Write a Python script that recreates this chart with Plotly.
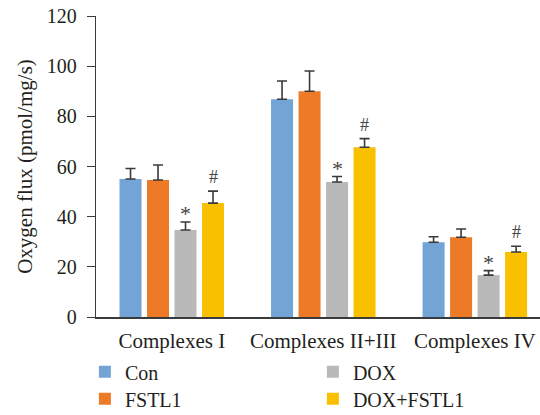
import plotly.graph_objects as go

categories = ["Complexes I", "Complexes II+III", "Complexes IV"]
series_names = ["Con", "FSTL1", "DOX", "DOX+FSTL1"]
con = [55.0, 86.8, 29.8]
fstl1 = [54.6, 90.0, 31.8]
dox = [34.7, 53.8, 16.7]
dox_fstl1 = [45.4, 67.7, 25.9]
con_err = [4.2, 7.3, 2.2]
fstl1_err = [6.0, 8.1, 3.3]
dox_err = [3.2, 2.2, 1.8]
dox_fstl1_err = [4.8, 3.4, 2.3]
dox_marks = ["*", "*", "*"]
dox_fstl1_marks = ["#", "#", "#"]
legend_rows = ["legend", "legend2", "legend", "legend2"]

values = [con, fstl1, dox, dox_fstl1]
errors = [con_err, fstl1_err, dox_err, dox_fstl1_err]
colors = ["#72A5D6", "#ED7A26", "#B9B9B9", "#F9C000"]

FONT = "Liberation Serif"
TXT = "#231F20"
bargap = 0.274
x_idx = list(range(len(categories)))

fig = go.Figure()
for name, vals, errs, col, lg in zip(series_names, values, errors, colors, legend_rows):
    fig.add_trace(go.Bar(
        x=x_idx, y=vals, name=name, marker=dict(color=col, line=dict(width=0)),
        legend=lg,
        error_y=dict(type="data", array=errs, arrayminus=[0] * len(errs), symmetric=False,
                     color="#3A3A3A", thickness=1.6, width=5),
    ))

slot = (1 - bargap) / 4
annotations = []
for j, (marks, vals, errs) in enumerate([(dox_marks, dox, dox_err), (dox_fstl1_marks, dox_fstl1, dox_fstl1_err)]):
    k = j + 2
    off = (k - 1.5) * slot
    for i, m in enumerate(marks):
        annotations.append(dict(
            x=i + off, y=vals[i] + errs[i], text=m, showarrow=False,
            xref="x", yref="y", yanchor="bottom", yshift=(-6 if m == "*" else 2),
            font=dict(family=FONT, size=(22 if m == "*" else 18), color="#444444"),
        ))

legend_common = dict(orientation="h", xanchor="left", yanchor="top",
                     entrywidth=183, entrywidthmode="pixels", traceorder="normal",
                     font=dict(family=FONT, size=20, color=TXT),
                     bgcolor="rgba(0,0,0,0)")

fig.update_layout(
    width=540, height=415,
    margin=dict(l=96, r=0, t=16, b=98, autoexpand=False),
    paper_bgcolor="white", plot_bgcolor="white",
    barmode="group", bargap=bargap, bargroupgap=0.2,
    font=dict(family=FONT, size=21, color=TXT),
    showlegend=True,
    legend=dict(x=-0.025, y=-0.117, **legend_common),
    legend2=dict(x=-0.025, y=-0.2067, **legend_common),
    annotations=annotations,
    xaxis=dict(tickmode="array", tickvals=x_idx, ticktext=categories,
               range=[-0.5, 2.43], showgrid=False, zeroline=False,
               showline=True, linecolor="#3A3A3A", linewidth=1.6, ticks="",
               ticklabelstandoff=4,
               tickfont=dict(family=FONT, size=21, color=TXT)),
    yaxis=dict(range=[0, 120], dtick=20, showgrid=False, zeroline=False,
               showline=True, linecolor="#3A3A3A", linewidth=1.4,
               ticks="outside", ticklen=8, tickwidth=1.4, tickcolor="#3A3A3A",
               ticklabelstandoff=6,
               tickfont=dict(family=FONT, size=20, color=TXT),
               title=dict(text="Oxygen flux (pmol/mg/s)", standoff=8,
                          font=dict(family=FONT, size=21, color=TXT))),
)

fig.write_html("out.html")
